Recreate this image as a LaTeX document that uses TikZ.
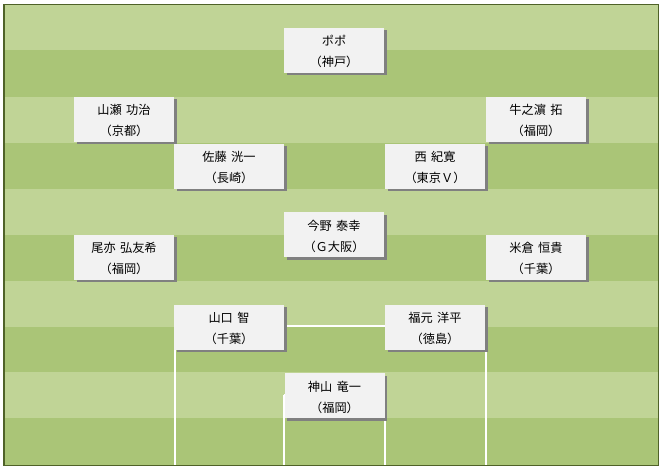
\documentclass[tikz,border=0pt]{standalone}
\usepackage{fontspec}
\newfontfamily\jpfont[WordSpace=1.6]{Noto Sans CJK JP}
\usetikzlibrary{shadows}
\definecolor{stripelight}{RGB}{192,212,150}
\definecolor{stripedark}{RGB}{170,197,119}
\definecolor{fieldborder}{RGB}{79,98,40}
\definecolor{boxfill}{RGB}{242,242,242}
\definecolor{shadowgray}{RGB}{128,128,128}
\newcommand{\firstline}{\rule{0pt}{13.5pt}}
\tikzset{
  player/.style={rectangle, inner sep=0pt, minimum width=100pt, minimum height=45pt,
    fill=boxfill, align=center, text=black,
    font=\jpfont\fontsize{12.2}{21}\selectfont,
    drop shadow={shadow xshift=2.5pt, shadow yshift=-2.5pt, fill=shadowgray, opacity=1}},
  wideplayer/.style={player, minimum width=110pt},
  fieldline/.style={draw=white, line width=2pt}
}
\begin{document}
\begin{tikzpicture}[x=1pt,y=-1pt]
\useasboundingbox (0,0) rectangle (661,471);
\fill[white] (0,0) rectangle (661,471);
% stripes
\foreach \ya/\yb/\c in {4/50/stripelight,50/97/stripedark,97/143/stripelight,143/189/stripedark,
  189/235/stripelight,235/281/stripedark,281/327/stripelight,327/372/stripedark,
  372/418/stripelight,418/465.5/stripedark}
  \fill[\c] (4,\ya) rectangle (659,\yb);
% field markings
\draw[fieldline] (175,326) -- (486,326);
\draw[fieldline] (175,326) -- (175,465);
\draw[fieldline] (486,326) -- (486,465);
\draw[fieldline] (284,395) -- (385,395);
\draw[fieldline] (284,395) -- (284,465);
\draw[fieldline] (385,395) -- (385,465);
% border
\draw[fieldborder, line width=1.5pt] (4,4.5) rectangle (658.5,465.5);
% players
\node[player] (popo) at (334,50) {\firstline ポポ\\（神戸）};
\node[player] (yamase) at (124,119) {\firstline 山瀬 功治\\（京都）};
\node[player] (ushinohama) at (536,119) {\firstline 牛之濵 拓\\（福岡）};
\node[wideplayer] (sato) at (229,166) {\firstline 佐藤 洸一\\（長崎）};
\node[player] (nishi) at (435,166) {\firstline 西 紀寛\\（東京Ｖ）};
\node[player] (konno) at (334,234.5) {\firstline 今野 泰幸\\（Ｇ大阪）};
\node[player] (omata) at (124,257) {\firstline 尾亦 弘友希\\（福岡）};
\node[player] (yonekura) at (536,257) {\firstline 米倉 恒貴\\（千葉）};
\node[wideplayer] (yamaguchi) at (229,327) {\firstline 山口 智\\（千葉）};
\node[player] (fukumoto) at (435,327) {\firstline 福元 洋平\\（徳島）};
\node[player] (kamiyama) at (334.5,395.5) {\firstline 神山 竜一\\（福岡）};
\end{tikzpicture}
\end{document}
